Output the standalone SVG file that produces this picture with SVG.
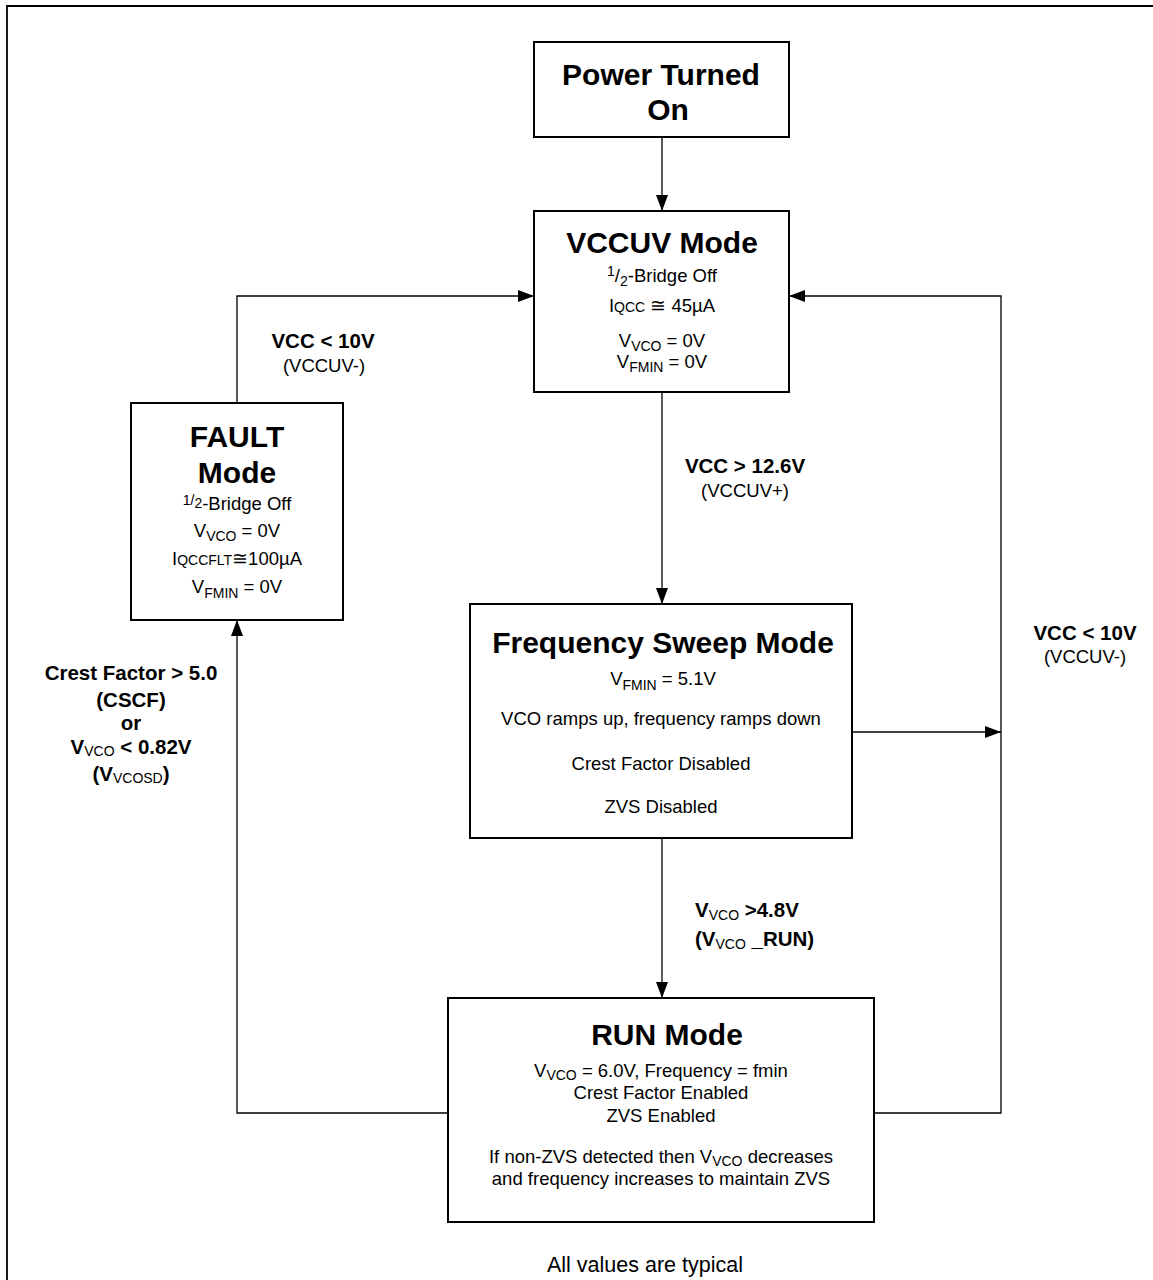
<svg xmlns="http://www.w3.org/2000/svg" width="1153" height="1280" viewBox="0 0 1153 1280">
<defs>
<marker id="ah" viewBox="0 0 16 12" refX="16" refY="6" markerWidth="16" markerHeight="12" markerUnits="userSpaceOnUse" orient="auto">
<path d="M0,0 L16,6 L0,12 Z" fill="#000"/>
</marker>
<style>
text{font-family:"Liberation Sans",Arial,sans-serif;fill:#000}
.box{fill:#fff;stroke:#000;stroke-width:2}
.ttl{font-size:30px;font-weight:bold;text-anchor:middle}
.b{font-size:18.5px;text-anchor:middle}
.lb{font-size:20.5px;font-weight:bold}
.lr{font-size:18.5px}
.sub{font-size:14px}
.c{text-anchor:middle}
.con{fill:none;stroke:#000;stroke-width:1.3}
</style>
</defs>
<rect width="1153" height="1280" fill="#fff"/>
<path d="M7,1280 L7,6 L1153,6" fill="none" stroke="#000" stroke-width="1.8"/>

<g id="connectors">
<path class="con" d="M662,137 L662,211" marker-end="url(#ah)"/>
<path class="con" d="M662,392 L662,604" marker-end="url(#ah)"/>
<path class="con" d="M662,838 L662,998" marker-end="url(#ah)"/>
<path class="con" d="M237,403 L237,296 L534,296" marker-end="url(#ah)"/>
<path class="con" d="M448,1113 L237,1113 L237,620" marker-end="url(#ah)"/>
<path class="con" d="M874,1113 L1001,1113 L1001,296 L789,296" marker-end="url(#ah)"/>
<path class="con" d="M852,732 L1001,732" marker-end="url(#ah)"/>
</g>

<g id="power-on">
<rect class="box" x="534" y="42" width="255" height="95"/>
<text class="ttl" x="661" y="85">Power Turned</text>
<text class="ttl" x="668" y="120">On</text>
</g>

<g id="vccuv-mode">
<rect class="box" x="534" y="211" width="255" height="181"/>
<text class="ttl" x="662" y="253">VCCUV Mode</text>
<text class="b" x="662" y="282"><tspan class="sub" dy="-6">1</tspan><tspan dy="6">/</tspan><tspan class="sub" dy="4">2</tspan><tspan dy="-4">-Bridge Off</tspan></text>
<text class="b" x="662" y="312">I<tspan class="sub">QCC</tspan> ≅ 45µA</text>
<text class="b" x="662" y="347">V<tspan class="sub" dy="4">VCO</tspan><tspan dy="-4"> = 0V</tspan></text>
<text class="b" x="662" y="368">V<tspan class="sub" dy="4">FMIN</tspan><tspan dy="-4"> = 0V</tspan></text>
</g>

<g id="fault-mode">
<rect class="box" x="131" y="403" width="212" height="217"/>
<text class="ttl" x="237" y="447">FAULT</text>
<text class="ttl" x="237" y="483">Mode</text>
<text class="b" x="237" y="510"><tspan class="sub" dy="-5">1</tspan><tspan class="sub" dy="0">/</tspan><tspan class="sub" dy="3">2</tspan><tspan dy="2">-Bridge Off</tspan></text>
<text class="b" x="237" y="537">V<tspan class="sub" dy="4">VCO</tspan><tspan dy="-4"> = 0V</tspan></text>
<text class="b" x="237" y="565">I<tspan class="sub">QCCFLT</tspan>≅100µA</text>
<text class="b" x="237" y="593">V<tspan class="sub" dy="5">FMIN</tspan><tspan dy="-5">  = 0V</tspan></text>
</g>

<g id="freq-sweep-mode">
<rect class="box" x="470" y="604" width="382" height="234"/>
<text class="ttl" x="663" y="653">Frequency Sweep Mode</text>
<text class="b" x="663" y="685">V<tspan class="sub" dy="5">FMIN</tspan><tspan dy="-5">  = 5.1V</tspan></text>
<text class="b" x="661" y="725">VCO ramps up, frequency ramps down</text>
<text class="b" x="661" y="770">Crest Factor Disabled</text>
<text class="b" x="661" y="813">ZVS Disabled</text>
</g>

<g id="run-mode">
<rect class="box" x="448" y="998" width="426" height="224"/>
<text class="ttl" x="667" y="1045">RUN Mode</text>
<text class="b" x="661" y="1077">V<tspan class="sub" dy="3">VCO</tspan><tspan dy="-3"> = 6.0V, Frequency = fmin</tspan></text>
<text class="b" x="661" y="1099">Crest Factor Enabled</text>
<text class="b" x="661" y="1122">ZVS Enabled</text>
<text class="b" x="661" y="1163">If non-ZVS detected then V<tspan class="sub" dy="3">VCO</tspan><tspan dy="-3"> decreases</tspan></text>
<text class="b" x="661" y="1185">and frequency increases to maintain ZVS</text>
</g>

<g id="labels">
<text class="lb c" x="323" y="348">VCC &lt; 10V</text>
<text class="lr c" x="324" y="372">(VCCUV-)</text>
<text class="lb c" x="1085" y="640">VCC &lt; 10V</text>
<text class="lr c" x="1085" y="663">(VCCUV-)</text>
<text class="lb c" x="745" y="473">VCC &gt; 12.6V</text>
<text class="lr c" x="745" y="497">(VCCUV+)</text>
<text class="lb" x="695" y="917">V<tspan class="sub" font-weight="normal" dy="3">VCO</tspan><tspan dy="-3"> &gt;4.8V</tspan></text>
<text class="lb" x="695" y="946">(V<tspan class="sub" font-weight="normal" dy="3">VCO</tspan><tspan dy="-3"> _RUN)</tspan></text>
<text class="lb c" x="131" y="680">Crest Factor &gt; 5.0</text>
<text class="lb c" x="131" y="707">(CSCF)</text>
<text class="lb c" x="131" y="730">or</text>
<text class="lb c" x="131" y="754">V<tspan class="sub" font-weight="normal" dy="2">VCO</tspan><tspan dy="-2"> &lt; 0.82V</tspan></text>
<text class="lb c" x="131" y="781">(V<tspan class="sub" font-weight="normal" dy="2">VCOSD</tspan><tspan dy="-2">)</tspan></text>
<text class="c" x="645" y="1272" font-size="21.5">All values are typical</text>
</g>
</svg>
